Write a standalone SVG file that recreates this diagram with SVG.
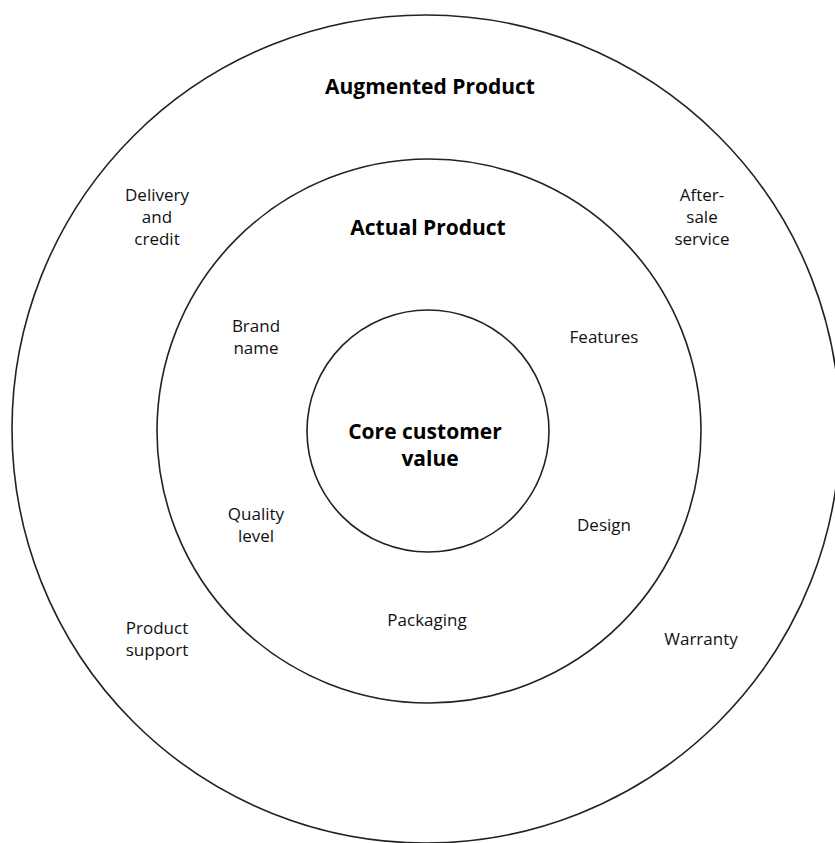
<svg xmlns="http://www.w3.org/2000/svg" width="835" height="843" viewBox="0 0 835 843">
  <style>
    .ring { fill: none; stroke: #222; stroke-width: 1.6; }
    .lbl { font-family: "Open Sans", "Noto Sans", sans-serif; font-size: 17px; fill: #111; text-anchor: middle; }
    .ttl { font-family: "Open Sans", "Noto Sans", sans-serif; font-size: 21px; font-weight: bold; fill: #000; text-anchor: middle; }
  </style>
  <rect width="835" height="843" fill="#fff"/>

  <!-- Augmented product ring -->
  <g id="augmented">
    <circle class="ring" cx="426" cy="429" r="414"/>
    <text class="ttl" x="430" y="94">Augmented Product</text>
    <text class="lbl"><tspan x="157" y="201">Delivery</tspan><tspan x="157" y="223">and</tspan><tspan x="157" y="245">credit</tspan></text>
    <text class="lbl"><tspan x="702" y="201">After-</tspan><tspan x="702" y="223">sale</tspan><tspan x="702" y="245">service</tspan></text>
    <text class="lbl"><tspan x="157" y="634">Product</tspan><tspan x="157" y="656">support</tspan></text>
    <text class="lbl" x="701" y="645">Warranty</text>
  </g>

  <!-- Actual product ring -->
  <g id="actual">
    <circle class="ring" cx="429" cy="431" r="272"/>
    <text class="ttl" x="428" y="235">Actual Product</text>
    <text class="lbl"><tspan x="256" y="332">Brand</tspan><tspan x="256" y="354">name</tspan></text>
    <text class="lbl" x="604" y="343">Features</text>
    <text class="lbl"><tspan x="256" y="520">Quality</tspan><tspan x="256" y="542">level</tspan></text>
    <text class="lbl" x="604" y="531">Design</text>
    <text class="lbl" x="427" y="626">Packaging</text>
  </g>

  <!-- Core value -->
  <g id="core">
    <circle class="ring" cx="428" cy="431" r="121"/>
    <text class="ttl"><tspan x="425" y="439">Core customer</tspan><tspan x="430" y="466">value</tspan></text>
  </g>
</svg>
